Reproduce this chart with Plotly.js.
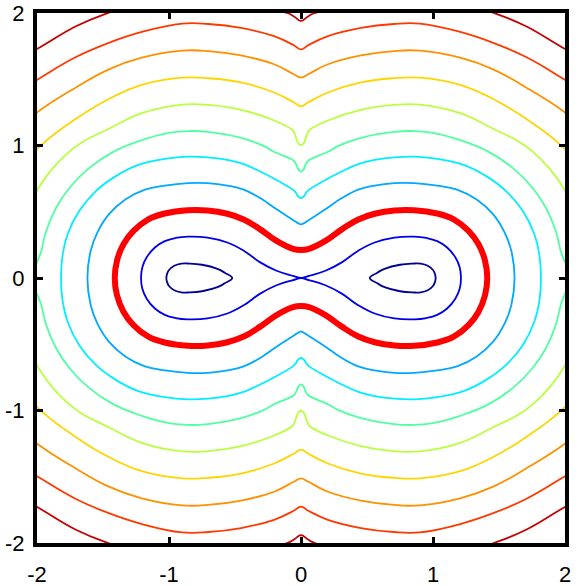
<!DOCTYPE html>
<html>
<head>
<meta charset="utf-8">
<script src="https://cdn.plot.ly/plotly-3.0.1.min.js"></script>
<style>
  html, body { margin: 0; padding: 0; background: #fff; }
  #plot { width: 578px; height: 586px; }
</style>
</head>
<body>
<div id="plot"></div>
<script>
// contour lines, first quadrant only (x >= 0, y >= 0),
// from the x = 0 crossing round to the y = 0 crossing; the rest is mirrored.
// points past the frame are estimates, they get clipped away.
const levelColors = ['#000090', '#0000e6', '#ff0000', '#00a8ff', '#00eeff', '#50ffa0',
                     '#b8ff40', '#ffd500', '#ff9000', '#ff3800', '#c40000'];
const levelWidths = [1.8, 1.8, 6, 1.8, 1.8, 1.8, 1.8, 1.8, 1.8, 1.8, 1.8];

// innermost level: upper half of the right-hand oval, inner tip to outer edge
const level0X = [0.521, 0.578, 0.633, 0.75, 0.845, 0.907, 0.96, 1.0, 1.015, 1.02];
const level0Y = [0, 0.04, 0.069, 0.1, 0.109, 0.108, 0.092, 0.06, 0.03, 0];

// figure-eight through the origin
const level1X = [0, 0.06, 0.185, 0.309, 0.434, 0.558, 0.708, 0.858, 0.95, 1.032, 1.107, 1.169, 1.202, 1.212];
const level1Y = [0, 0.016, 0.055, 0.118, 0.206, 0.268, 0.305, 0.312, 0.302, 0.278, 0.23, 0.156, 0.081, 0];

// the thick red one
const level2X = [0, 0.06, 0.185, 0.309, 0.434, 0.558, 0.708, 0.858, 1.032, 1.157, 1.269, 1.344, 1.394, 1.411];
const level2Y = [0.212, 0.22, 0.28, 0.367, 0.442, 0.485, 0.51, 0.512, 0.487, 0.443, 0.355, 0.256, 0.131, 0];

const level3X = [0, 0.03, 0.06, 0.185, 0.309, 0.434, 0.558, 0.708, 0.858, 1.032, 1.182, 1.331, 1.456, 1.543, 1.593, 1.618];
const level3Y = [0.404, 0.418, 0.438, 0.518, 0.603, 0.667, 0.698, 0.716, 0.716, 0.697, 0.667, 0.592, 0.48, 0.343, 0.206, 0];

const level4X = [0, 0.025, 0.04, 0.06, 0.185, 0.309, 0.434, 0.558, 0.708, 0.858, 1.032, 1.232, 1.406, 1.556, 1.681, 1.768, 1.805, 1.818];
const level4Y = [0.603, 0.62, 0.645, 0.665, 0.74, 0.804, 0.859, 0.891, 0.911, 0.916, 0.899, 0.854, 0.767, 0.654, 0.505, 0.33, 0.181, 0];

const level5X = [0, 0.02, 0.035, 0.055, 0.209, 0.279, 0.454, 0.703, 0.853, 1.0, 1.206, 1.419, 1.606, 1.755, 1.855, 1.93, 1.967, 2.03];
const level5Y = [0.803, 0.82, 0.855, 0.885, 0.955, 0.995, 1.057, 1.102, 1.109, 1.095, 1.04, 0.954, 0.829, 0.679, 0.53, 0.355, 0.206, 0];

const level6X = [0, 0.02, 0.035, 0.05, 0.067, 0.204, 0.454, 0.703, 0.9, 1.206, 1.456, 1.655, 1.755, 1.88, 1.98, 2.1, 2.18];
const level6Y = [1.002, 1.015, 1.05, 1.094, 1.119, 1.189, 1.269, 1.306, 1.309, 1.244, 1.126, 1.027, 0.954, 0.829, 0.692, 0.45, 0];

const level7X = [0, 0.055, 0.204, 0.454, 0.703, 0.9, 1.206, 1.456, 1.705, 1.955, 2.15, 2.3, 2.38];
const level7Y = [1.296, 1.326, 1.40, 1.476, 1.508, 1.512, 1.458, 1.351, 1.201, 1.014, 0.8, 0.48, 0];

const level8X = [0, 0.055, 0.204, 0.454, 0.703, 0.9, 1.206, 1.456, 1.705, 1.98, 2.2, 2.45, 2.59];
const level8Y = [1.513, 1.538, 1.613, 1.68, 1.713, 1.716, 1.663, 1.575, 1.438, 1.264, 1.08, 0.66, 0];

const level9X = [0, 0.055, 0.204, 0.454, 0.703, 0.9, 1.206, 1.456, 1.705, 1.98, 2.25, 2.55, 2.72, 2.8];
const level9Y = [1.725, 1.757, 1.825, 1.887, 1.917, 1.92, 1.857, 1.775, 1.668, 1.508, 1.34, 0.95, 0.55, 0];

const level10X = [0, 0.05, 0.105, 0.45, 0.85, 1.2, 1.49, 1.705, 1.98, 2.25, 2.6, 2.9, 2.98];
const level10Y = [1.94, 1.972, 2.0, 2.055, 2.1, 2.076, 1.99, 1.90, 1.74, 1.59, 1.2, 0.57, 0];

const tickVals = [-2, -1, 0, 1, 2];
const tickText = ['-2', '-1', '0', '1', '2'];

// quadrant -> closed loop round the origin
function mirrorLoop(qx, qy) {
    var xs = [], ys = [];
    var n = qx.length;
    for (var i = 0; i < n; i++) { xs.push(qx[i]); ys.push(qy[i]); }
    for (var i = n - 2; i >= 0; i--) { xs.push(qx[i]); ys.push(-qy[i]); }
    for (var i = 1; i < n; i++) { xs.push(-qx[i]); ys.push(-qy[i]); }
    for (var i = n - 2; i >= 0; i--) { xs.push(-qx[i]); ys.push(qy[i]); }
    return [xs, ys];
}

// half oval -> two ovals (right and left), split by a gap
function mirrorOvals(hx, hy) {
    var xs = [], ys = [];
    var n = hx.length;
    for (var s of [1, -1]) {
        for (var i = 0; i < n; i++) { xs.push(s * hx[i]); ys.push(hy[i]); }
        for (var i = n - 2; i >= 0; i--) { xs.push(s * hx[i]); ys.push(-hy[i]); }
        xs.push(null); ys.push(null);
    }
    return [xs, ys];
}

const quadX = [level0X, level1X, level2X, level3X, level4X, level5X, level6X, level7X, level8X, level9X, level10X];
const quadY = [level0Y, level1Y, level2Y, level3Y, level4Y, level5Y, level6Y, level7Y, level8Y, level9Y, level10Y];

var data = [];
for (var k = 0; k < quadX.length; k++) {
    var pts = (k == 0) ? mirrorOvals(quadX[k], quadY[k]) : mirrorLoop(quadX[k], quadY[k]);
    data.push({
        x: pts[0],
        y: pts[1],
        mode: 'lines',
        line: { color: levelColors[k], width: levelWidths[k], shape: 'spline', smoothing: 1.2 },
        hoverinfo: 'skip'
    });
}
// red one drawn last so it sits on top
data.push(data.splice(2, 1)[0]);

var axisStyle = {
    range: [-2, 2],
    tickvals: tickVals,
    ticktext: tickText,
    ticks: 'inside',
    ticklen: 6,
    tickwidth: 3,
    tickcolor: '#000',
    showline: true,
    linewidth: 4,
    linecolor: '#000',
    mirror: 'ticks',
    showgrid: false,
    zeroline: false,
    tickfont: { family: 'Liberation Sans, Arial, sans-serif', size: 22, color: '#000' }
};

var layout = {
    width: 578,
    height: 586,
    margin: { l: 37, r: 13, t: 13, b: 43 },
    showlegend: false,
    paper_bgcolor: '#fff',
    plot_bgcolor: '#fff',
    xaxis: Object.assign({}, axisStyle, { ticklabelstandoff: 9 }),
    yaxis: Object.assign({}, axisStyle, { ticklabelstandoff: 4 })
};

Plotly.newPlot('plot', data, layout, { displayModeBar: false, staticPlot: true });
</script>
</body>
</html>
